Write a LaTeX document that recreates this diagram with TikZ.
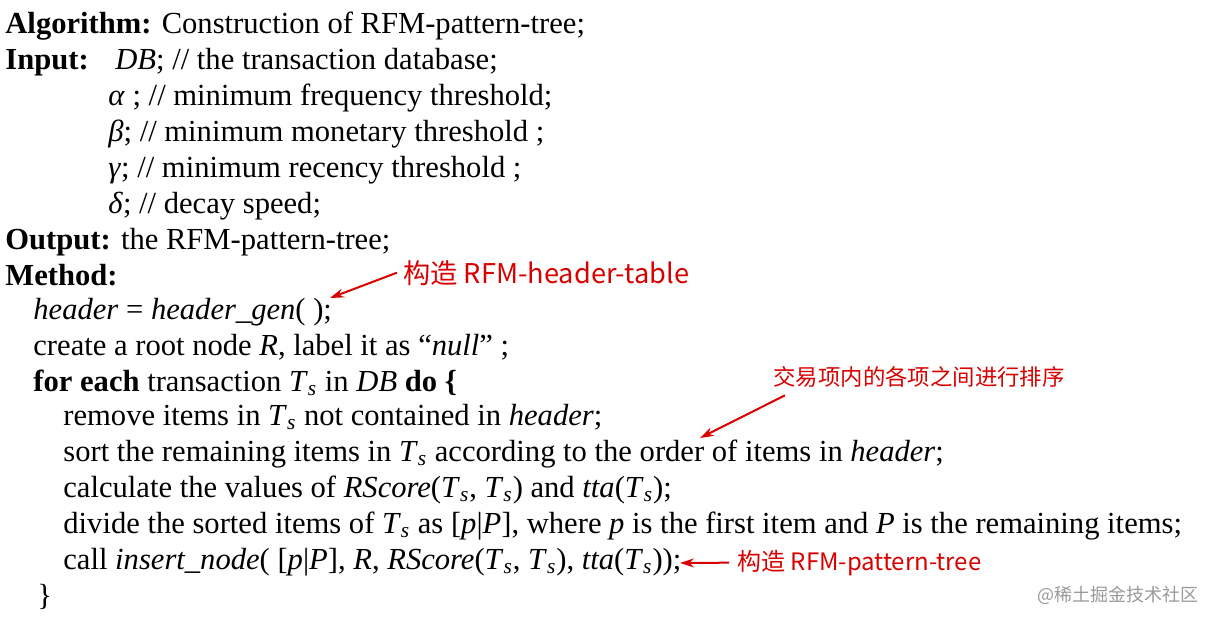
\documentclass[tikz,border=0pt]{standalone}
\usepackage{fontspec}
\setmainfont{Liberation Serif}
\newfontfamily\cjk{Noto Sans CJK SC}
\usetikzlibrary{arrows.meta}
\newcommand{\myTs}{\textit{T}\textsubscript{\textit{s}}}
\tikzset{
  ln/.style={anchor=base west,inner sep=0pt,font=\fontsize{15.3}{17}\selectfont},
  ann/.style={anchor=base west,inner sep=0pt,text=red!85!black,font=\cjk\fontsize{13.6}{15}\selectfont},
  rarr/.style={draw=red!85!black,line width=1pt,-{Stealth[length=7pt,width=4.5pt]}}
}
\begin{document}
\begin{tikzpicture}[x=0.5pt,y=-0.5pt]
\useasboundingbox (0,0) rectangle (1215,623);
\node[ln] (l1) at (5,33) {\textbf{Algorithm:} Construction of RFM-pattern-tree;};
\node[ln] (l2a) at (5,69) {\textbf{Input:}};
\node[ln] (l2) at (115,69) {\textit{DB}; // the transaction database;};
\node[ln] (l3) at (108,105) {\textit{α} ; // minimum frequency threshold;};
\node[ln] (l4) at (108,141) {\textit{β}; // minimum monetary threshold ;};
\node[ln] (l5) at (108,177) {\textit{γ}; // minimum recency threshold ;};
\node[ln] (l6) at (108,213) {\textit{δ}; // decay speed;};
\node[ln] (l7) at (5,249) {\textbf{Output:} the RFM-pattern-tree;};
\node[ln] (l8) at (5,285) {\textbf{Method:}};
\node[ln] (l9) at (33,319) {\textit{header} = \textit{header\_gen}( );};
\node[ln] (l10) at (33,355) {create a root node \textit{R}, label it as “\textit{null}” ;};
\node[ln] (l11) at (33,391) {\textbf{for each} transaction \myTs{} in \textit{DB} \textbf{do \{}};
\node[ln] (l12) at (63,425) {remove items in \myTs{} not contained in \textit{header};};
\node[ln] (l13) at (63,461) {sort the remaining items in \myTs{} according to the order of items in \textit{header};};
\node[ln] (l14) at (63,497) {calculate the values of \textit{RScore}(\myTs, \myTs) and \textit{tta}(\myTs);};
\node[ln] (l15) at (63,533) {divide the sorted items of \myTs{} as [\textit{p}|\textit{P}], where \textit{p} is the first item and \textit{P} is the remaining items;};
\node[ln] (l16) at (63,569) {call \textit{insert\_node}( [\textit{p}|\textit{P}], \textit{R}, \textit{RScore}(\myTs, \myTs), \textit{tta}(\myTs));};
\node[ln] (l17) at (37,605) {\}};
\node[ann] (a1) at (403,283) {构造 RFM-header-table};
\node[ann,font=\cjk\fontsize{11.2}{13}\selectfont] (a2) at (773,385) {交易项内的各项之间进行排序};
\node[ann,font=\cjk\fontsize{12}{14}\selectfont] (a3) at (737,570) {构造 RFM-pattern-tree};
\node[anchor=base west,inner sep=0pt,text=gray!80,font=\cjk\fontsize{9}{10}\selectfont] (wm) at (1037,601) {@稀土掘金技术社区};
\coordinate (t1) at (330,298);
\coordinate (t2) at (700,438);
\coordinate (t3) at (680,563);
\draw[rarr] (a1.west) ++(-6,0) -- (t1);
\draw[rarr] (a2.south west) ++(12,8) -- (t2);
\draw[rarr] (a3.west) ++(-8,0) -- (t3);
\end{tikzpicture}
\end{document}
